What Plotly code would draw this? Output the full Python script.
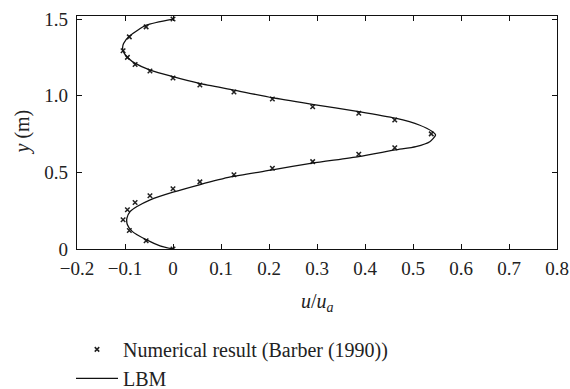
import plotly.graph_objects as go

# Numerical result (Barber (1990)) points
num_u = [0.0, -0.056, -0.091, -0.104, -0.095, -0.079, -0.048, 0.0, 0.056, 0.127,
         0.207, 0.291, 0.387, 0.462, 0.538, 0.462, 0.387, 0.291, 0.207, 0.127,
         0.056, 0.0, -0.048, -0.079, -0.095, -0.104, -0.091, -0.056, 0.0]
num_y = [1.50, 1.449, 1.384, 1.293, 1.250, 1.204, 1.161, 1.115, 1.070, 1.024,
         0.978, 0.928, 0.885, 0.842, 0.751, 0.661, 0.618, 0.570, 0.527, 0.484,
         0.438, 0.393, 0.347, 0.303, 0.256, 0.191, 0.121, 0.054, 0.0]

# LBM profile
lbm_y = [0.0, 0.021, 0.061, 0.115, 0.158, 0.202, 0.245, 0.277, 0.321, 0.371,
         0.419, 0.470, 0.516, 0.560, 0.603, 0.646, 0.668, 0.700, 0.744, 0.766,
         0.809, 0.853, 0.896, 0.944, 0.987, 1.037, 1.081, 1.124, 1.167, 1.211,
         1.243, 1.276, 1.309, 1.341, 1.389, 1.460, 1.500]
lbm_u = [0.0, -0.027, -0.056, -0.085, -0.095, -0.096, -0.089, -0.075, -0.0475, 0.0,
         0.055, 0.120, 0.207, 0.290, 0.387, 0.463, 0.506, 0.535, 0.547, 0.540,
         0.513, 0.463, 0.387, 0.290, 0.207, 0.127, 0.055, 0.0, -0.0475, -0.0786,
         -0.0925, -0.1015, -0.105, -0.103, -0.0905, -0.0558, 0.0]

x_ticks = [-0.2, -0.1, 0, 0.1, 0.2, 0.3, 0.4, 0.5, 0.6, 0.7, 0.8]
x_ticktext = ["\u22120.2", "\u22120.1", "0", "0.1", "0.2", "0.3", "0.4", "0.5", "0.6", "0.7", "0.8"]
y_ticks = [0, 0.5, 1.0, 1.5]
y_ticktext = ["0", "0.5", "1.0", "1.5"]

FONT = "Liberation Serif"
FS_TICK = 19
FS_TEXT = 20
INK = "#222"

fig = go.Figure()
fig.add_trace(go.Scatter(
    x=num_u, y=num_y, mode="markers", name="Numerical result (Barber (1990))",
    legendgroup="a",
    marker=dict(symbol="x-thin-open", size=4.5, color=INK, line=dict(width=1.5, color=INK)),
))
fig.add_trace(go.Scatter(
    x=lbm_u, y=lbm_y, mode="lines", name="LBM", legendgroup="b",
    line=dict(color="#111", width=1.3, shape="spline", smoothing=0.6),
))

axis_common = dict(
    showline=True, linecolor="#111", linewidth=1.3, mirror="ticks",
    ticks="inside", ticklen=5, tickwidth=1.1, tickcolor="#111",
    showgrid=False, zeroline=False, automargin=False,
    tickfont=dict(family=FONT, size=FS_TICK, color=INK),
)

fig.update_layout(
    width=570, height=389,
    margin=dict(l=77, r=13, t=16, b=140, autoexpand=False),
    paper_bgcolor="white", plot_bgcolor="white",
    font=dict(family=FONT, size=FS_TEXT, color=INK),
    xaxis=dict(range=[-0.2, 0.8], tickvals=x_ticks, ticktext=x_ticktext,
               ticklabelstandoff=2, **axis_common),
    yaxis=dict(range=[0, 1.52], tickvals=y_ticks, ticktext=y_ticktext,
               ticklabelstandoff=4, **axis_common),
    showlegend=True,
    legend=dict(x=-0.0125, y=-0.347, xanchor="left", yanchor="top",
                bgcolor="rgba(0,0,0,0)", font=dict(family=FONT, size=FS_TEXT, color=INK),
                itemwidth=42, tracegroupgap=0),
    annotations=[
        dict(text="<i>u</i>/<i>u</i><sub><i>a</i></sub>", xref="paper", yref="paper",
             x=0.5, y=0, xanchor="center", yanchor="middle", yshift=-53, showarrow=False,
             font=dict(family=FONT, size=FS_TEXT, color=INK)),
        dict(text="<i>y</i> (m)", xref="paper", yref="paper", x=0, y=0.5,
             xanchor="center", yanchor="middle", xshift=-55, textangle=-90,
             showarrow=False, font=dict(family=FONT, size=FS_TEXT, color=INK)),
    ],
)

fig.write_html("out.html", config={"displayModeBar": False},
               post_script="document.body.style.margin='0';")
